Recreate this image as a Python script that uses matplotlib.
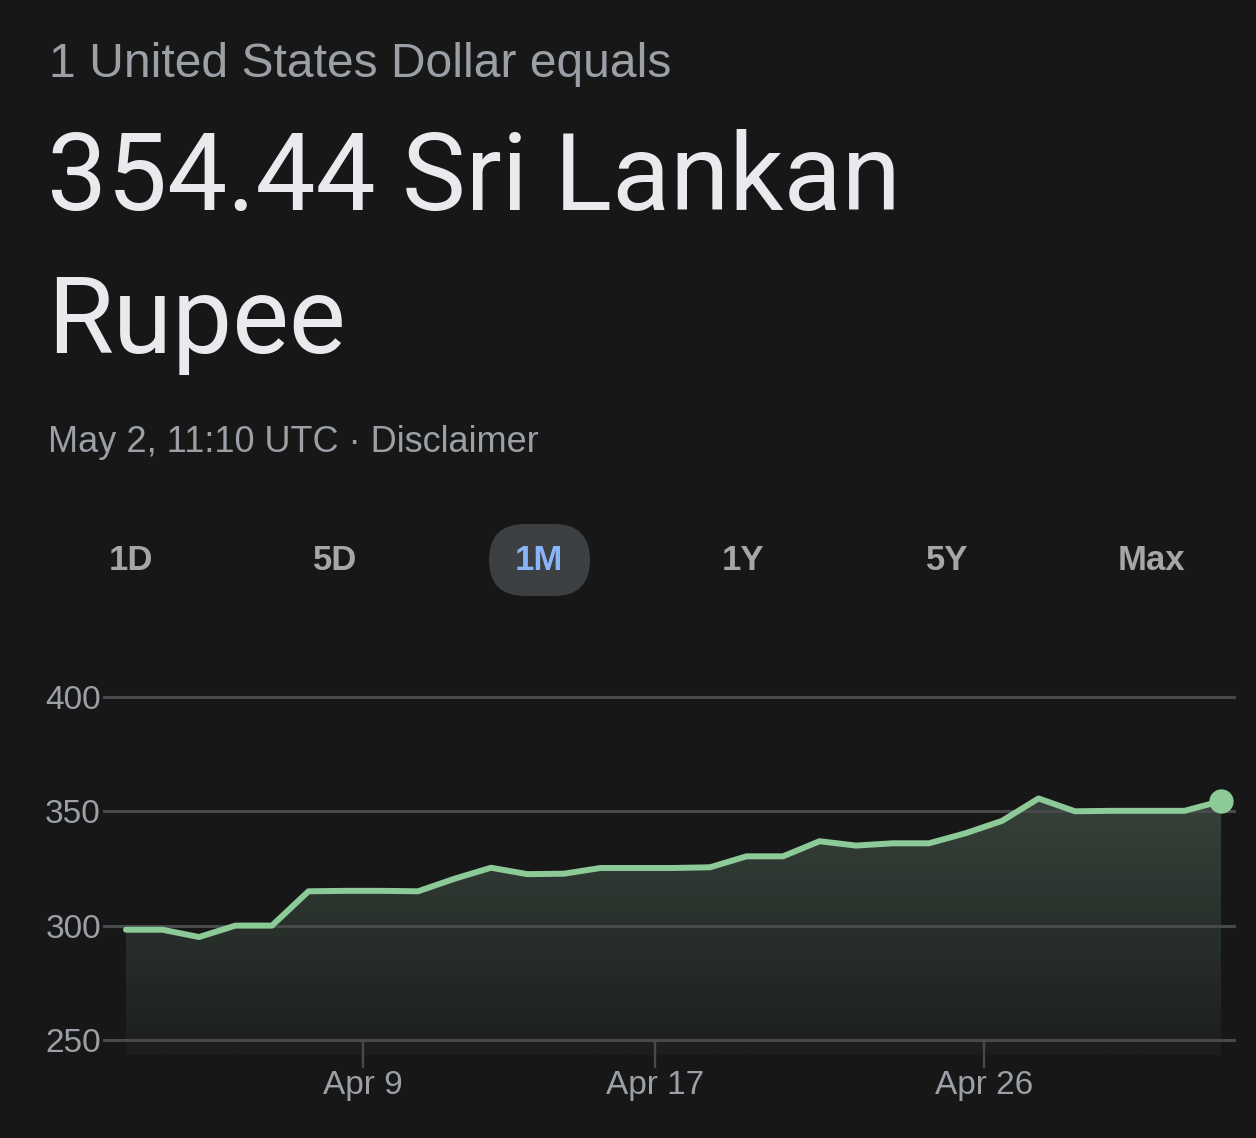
import numpy as np
import pandas as pd
import matplotlib
matplotlib.use("Agg")
import matplotlib.pyplot as plt
import matplotlib.dates as mdates
from matplotlib.patches import FancyBboxPatch
from matplotlib.transforms import IdentityTransform

# data (one point per day)
start = pd.Timestamp("2022-04-02 12:00")
dates = pd.date_range(start, periods=31, freq="D")
rate = [298.2, 298.2, 295.0, 300.0, 300.0, 315.0, 315.2, 315.2, 315.0, 320.5,
        325.3, 322.5, 322.7, 325.2, 325.2, 325.2, 325.5, 330.3, 330.3, 336.9,
        335.0, 336.0, 336.0, 340.4, 345.8, 355.6, 350.0, 350.2, 350.2, 350.2,
        354.44]
tick_dates = [pd.Timestamp("2022-04-09"), pd.Timestamp("2022-04-17"), pd.Timestamp("2022-04-26")]
tick_labels = ["Apr 9", "Apr 17", "Apr 26"]
y_ticks = [250, 300, 350, 400]
ranges = ["1D", "5D", "1M", "1Y", "5Y", "Max"]
active = "1M"

W, H = 1256, 1138
BG = "#171717"
GREEN = "#8ccb98"
GRID = "#48494b"
SUB = "#9aa0a6"

fig = plt.figure(figsize=(W / 100, H / 100), dpi=100, facecolor=BG)

def px(x, y):
    return x / W, 1 - y / H

# header text
fig.text(*px(49, 77), "1 United States Dollar equals", fontsize=34.6,
         color=SUB, family="Liberation Sans", va="baseline")
fig.text(*px(47, 210), "354.44 Sri Lankan", fontsize=77, color="#e8eaed",
         family="Roboto", va="baseline")
fig.text(*px(47, 353), "Rupee", fontsize=77, color="#e8eaed",
         family="Roboto", va="baseline")
fig.text(*px(48, 452), "May 2, 11:10 UTC \u00b7 Disclaimer", fontsize=26,
         color=SUB, family="Liberation Sans", va="baseline")

# range selector
pill = FancyBboxPatch((489, H - 596), 101, 72,
                      boxstyle="round,pad=0,rounding_size=36",
                      transform=IdentityTransform(), facecolor="#3c4043",
                      edgecolor="none")
fig.add_artist(pill)
for i, r in enumerate(ranges):
    cx = 131 + i * 204
    fig.text(*px(cx, 560), r, fontsize=25, ha="center", va="center",
             family="Liberation Sans", fontweight="bold",
             color="#8ab4f8" if r == active else "#a4a6a8")

# chart
y_bottom, y_top = 243.4, 402
ax = fig.add_axes([103 / W, 1 - 1055 / H, (1236 - 103) / W, (1055 - 692.4) / H])
ax.set_facecolor(BG)
xn = mdates.date2num(dates)
ax.set_xlim(xn[0] - 0.63, xn[0] + 30.41)
ax.set_ylim(y_bottom, y_top)

for v in y_ticks:
    ax.axhline(v, color=GRID, lw=2.2, zorder=1)

# gradient fill under the line
poly = ax.fill_between(xn, rate, y_bottom, facecolor="none", edgecolor="none")
top_c = np.array([0x36, 0x42, 0x3a]) / 255
bot_c = np.array([0x1c, 0x1e, 0x1d]) / 255
t = np.linspace(0, 1, 256)[:, None]
grad = (top_c * (1 - t) + bot_c * t).reshape(256, 1, 3)
im = ax.imshow(grad, extent=[xn[0], xn[-1], y_bottom, max(rate)],
               aspect="auto", origin="upper", zorder=0.5, interpolation="bilinear")
im.set_clip_path(poly.get_paths()[0], transform=ax.transData)

ax.plot(xn, rate, color=GREEN, lw=4.3, solid_joinstyle="round",
        solid_capstyle="round", zorder=3)
ax.plot(xn[-1], rate[-1], "o", ms=16.5, color=GREEN, zorder=4, clip_on=False)

# x ticks hanging from the 250 line
tn = mdates.date2num(tick_dates)
for x in tn:
    ax.plot([x, x], [250, 238.3], color=GRID, lw=1.7, clip_on=False, zorder=2)
ax.set_xticks(tn)
ax.set_xticklabels(tick_labels)
ax.set_yticks(y_ticks)
ax.tick_params(axis="x", length=0, pad=11, labelsize=24, labelcolor=SUB)
ax.tick_params(axis="y", length=0, pad=1.5, labelsize=24, labelcolor=SUB)
for lab in ax.get_xticklabels() + ax.get_yticklabels():
    lab.set_family("Liberation Sans")
for s in ax.spines.values():
    s.set_visible(False)

fig.savefig("out.png", dpi=100, facecolor=BG)
